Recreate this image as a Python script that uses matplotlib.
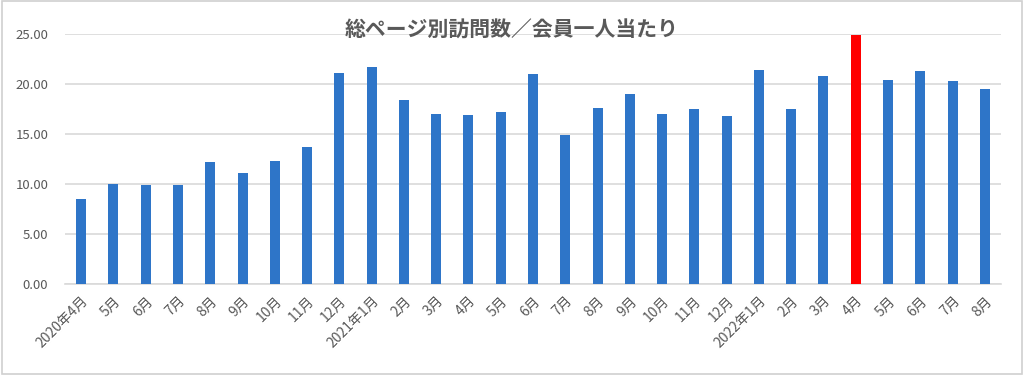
import matplotlib
matplotlib.use('Agg')
import matplotlib.pyplot as plt
from matplotlib.patches import Rectangle

plt.rcParams['font.family'] = ['Noto Sans CJK JP', 'DejaVu Sans']

# data
months = ['2020年4月', '5月', '6月', '7月', '8月', '9月', '10月', '11月', '12月',
          '2021年1月', '2月', '3月', '4月', '5月', '6月', '7月', '8月', '9月', '10月', '11月', '12月',
          '2022年1月', '2月', '3月', '4月', '5月', '6月', '7月', '8月']
values = [8.5, 10.0, 9.9, 9.9, 12.2, 11.1, 12.3, 13.7, 21.1,
          21.7, 18.4, 17.0, 16.9, 17.2, 21.0, 14.9, 17.6, 19.0, 17.0, 17.5, 16.8,
          21.4, 17.5, 20.8, 24.95, 20.4, 21.3, 20.3, 19.5]
highlight_idx = 24  # 2022年4月

title = '総ページ別訪問数／会員一人当たり'
blue = '#2E75C8'
red = '#FF0000'
text_gray = '#595959'
grid_gray = '#D9D9D9'

colors = [red if i == highlight_idx else blue for i in range(len(values))]

fig = plt.figure(figsize=(10.24, 3.75), dpi=100)
ax = fig.add_axes([0.0635, 0.2427, 0.914, 0.6663])

x = list(range(len(values)))
ax.bar(x, values, width=0.31, color=colors, zorder=3)

ax.set_ylim(0, 25)
ax.set_xlim(-0.5, len(values) - 0.5)
ax.set_yticks([0, 5, 10, 15, 20, 25])
ax.set_yticklabels([f'{v:.2f}' for v in [0, 5, 10, 15, 20, 25]])
ax.yaxis.grid(True, color=grid_gray, linewidth=1.2, zorder=0)
ax.set_xticks(x)
ax.set_xticklabels(months, rotation=45, ha='right', rotation_mode='anchor')

for s in ['top', 'right', 'left']:
    ax.spines[s].set_visible(False)
ax.spines['bottom'].set_color(grid_gray)
ax.spines['bottom'].set_linewidth(1.2)
ax.tick_params(axis='both', length=0, colors=text_gray)
ax.tick_params(axis='y', labelsize=9.5, pad=12)
ax.tick_params(axis='x', labelsize=10, pad=7)

fig.text(0.5, 0.92, title, ha='center', va='center', fontsize=15,
         fontweight='bold', color=text_gray)

# outer chart border
fig.patches.append(Rectangle((0.002, 0.003), 0.996, 0.994, transform=fig.transFigure,
                             fill=False, edgecolor='#D0D0D0', linewidth=1.2))

plt.savefig('out.png', dpi=100)
